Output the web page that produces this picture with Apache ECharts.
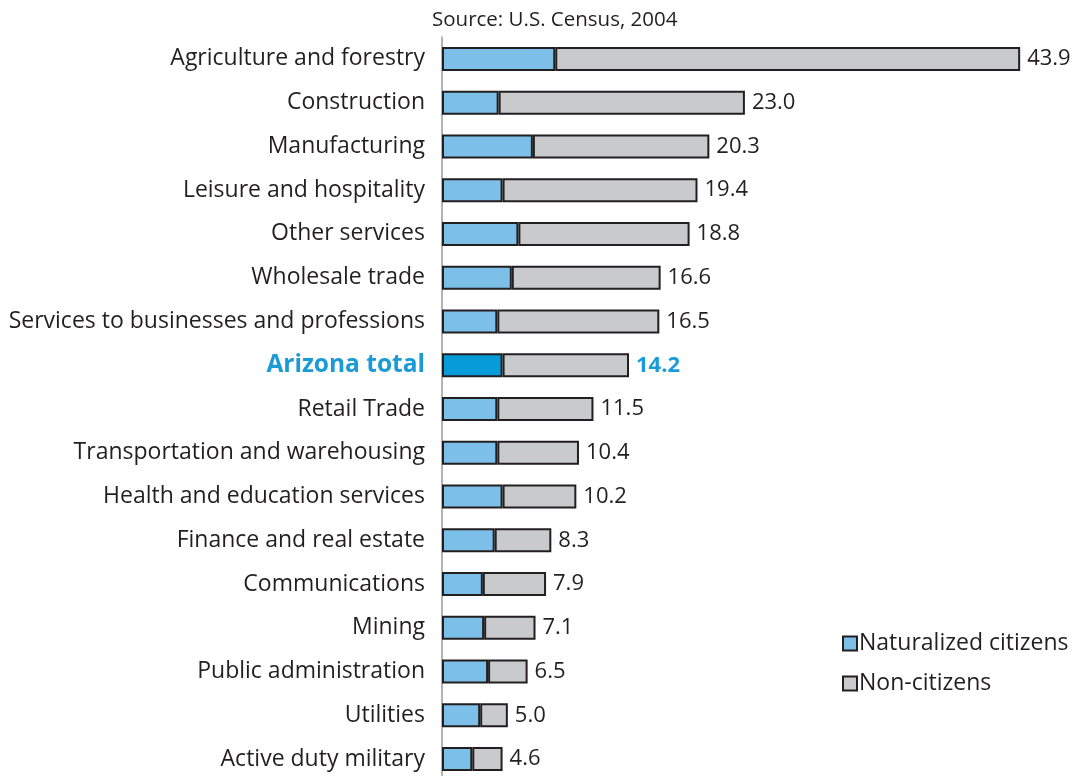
<!DOCTYPE html>
<html>
<head>
<meta charset="utf-8">
<script src="https://cdn.jsdelivr.net/npm/echarts@6/dist/echarts.min.js"></script>
<style>
  html, body { margin: 0; padding: 0; background: #ffffff; }
  #chart { width: 1081px; height: 776px; }
</style>
</head>
<body>
<div id="chart"></div>
<script>
// Share of workers who are foreign-born, by industry (Arizona)
const industries = [
  'Agriculture and forestry', 'Construction', 'Manufacturing',
  'Leisure and hospitality', 'Other services', 'Wholesale trade',
  'Services to businesses and professions', 'Arizona total', 'Retail Trade',
  'Transportation and warehousing', 'Health and education services',
  'Finance and real estate', 'Communications', 'Mining',
  'Public administration', 'Utilities', 'Active duty military'
];
const naturalized = [8.6, 4.3, 6.9, 4.6, 5.8, 5.3, 4.2, 4.6, 4.2, 4.2, 4.6, 4.0, 3.1, 3.2, 3.5, 2.9, 2.3];
const nonCitizens = [35.3, 18.7, 13.4, 14.8, 13.0, 11.3, 12.3, 9.6, 7.3, 6.2, 5.6, 4.3, 4.8, 3.9, 3.0, 2.1, 2.3];
const totals = ['43.9', '23.0', '20.3', '19.4', '18.8', '16.6', '16.5', '14.2', '11.5', '10.4', '10.2', '8.3', '7.9', '7.1', '6.5', '5.0', '4.6'];
const highlight = 'Arizona total';

const FONT = '"Open Sans", Lato, sans-serif';
const INK = '#231f20';
const HL = '#1a9bd7';

const chart = echarts.init(document.getElementById('chart'), null, { renderer: 'canvas' });

const natData = naturalized.map((v, i) => industries[i] === highlight
  ? { value: v, itemStyle: { color: '#079bd8' } }
  : v);

const nonData = nonCitizens.map((v, i) => ({
  value: v,
  label: industries[i] === highlight
    ? { color: HL, fontWeight: 'bold' }
    : undefined
}));

chart.setOption({
  animation: false,
  backgroundColor: '#ffffff',
  title: {
    text: 'Source: U.S. Census, 2004',
    left: 427, top: 5,
    textStyle: { fontFamily: FONT, fontSize: 20.5, fontWeight: 'normal', color: INK }
  },
  legend: {
    orient: 'vertical',
    left: 837, top: 627,
    itemWidth: 14, itemHeight: 14, itemGap: 17,
    icon: 'rect',
    textStyle: { fontFamily: FONT, fontSize: 23, color: INK, padding: [0, 0, 0, -3] },
    data: ['Naturalized citizens', 'Non-citizens']
  },
  grid: { left: 442, top: 37, width: 658.5, height: 744, outerBoundsMode: 'none' },
  xAxis: {
    type: 'value', min: 0, max: 50,
    show: false
  },
  yAxis: {
    type: 'category',
    inverse: true,
    data: industries,
    axisLine: { lineStyle: { color: '#9a9a9a', width: 1.5 } },
    axisTick: { length: 8, lineStyle: { color: '#9a9a9a', width: 1.5 } },
    axisLabel: {
      margin: 17,
      fontFamily: FONT, fontSize: 23, color: INK,
      formatter: v => v === highlight ? '{hl|' + v + '}' : v,
      rich: {
        hl: { fontFamily: FONT, fontSize: 24.5, fontWeight: 'bold', color: HL }
      }
    }
  },
  series: [
    {
      name: 'Naturalized citizens',
      type: 'bar', stack: 'share',
      barWidth: 24,
      itemStyle: { color: '#7cbfe9', borderColor: INK, borderWidth: 2 },
      data: natData
    },
    {
      name: 'Non-citizens',
      type: 'bar', stack: 'share',
      barWidth: 24,
      itemStyle: { color: '#c9cacc', borderColor: INK, borderWidth: 2 },
      label: {
        show: true, position: 'right', distance: 7,
        fontFamily: FONT, fontSize: 22, color: INK,
        formatter: p => totals[p.dataIndex]
      },
      data: nonData
    }
  ]
});
</script>
</body>
</html>
